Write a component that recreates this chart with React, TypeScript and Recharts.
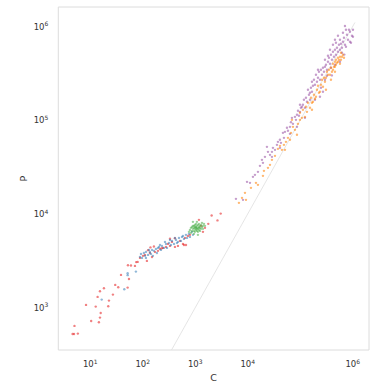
import React from 'react';
import {
  ScatterChart,
  Scatter,
  XAxis,
  YAxis,
  ReferenceLine,
  ReferenceArea,
} from 'recharts';

// [C, P] pairs
const redPoints: number[][] = [
  [4.6, 523], [4.9, 523], [5.8, 528], [5.0, 638], [8.3, 1069], [10.4, 721], [12.7, 1025],
  [14.6, 698], [15.3, 782], [15.8, 877], [13.8, 1301], [15.3, 1497], [18.2, 1610], [22.0, 1035],
  [22.7, 1188], [27, 1376], [29.9, 1747], [34.1, 1650], [38.5, 2232], [51.5, 1634], [54.6, 2022],
  [52.2, 2833], [59.6, 2810], [71, 2786], [75, 3060], [80, 3075], [88.5, 3389], [101, 3564],
  [120, 3150], [137, 3830], [150, 3470], [171, 3929], [195, 4030], [213, 4230], [243, 4335],
  [277, 4440], [302, 4781], [330, 4552], [360, 5020], [410, 4440], [468, 4552], [511, 5150],
  [583, 4781], [636, 5543], [726, 5821], [792, 5970], [665, 4660], [609, 4660], [140, 4390],
  [163, 4480], [330, 5420], [410, 5500], [1175, 8630], [1770, 7821], [2050, 9590], [2650, 8520],
  [3050, 10070], [1531, 7096], [1402, 6426], [1284, 7447], [110, 3650], [126, 4100], [230, 4300],
];

const bluePoints: number[][] = [
  [16.5, 1217], [44.5, 1571], [51.5, 2328], [51.5, 2220], [74, 2423], [88.5, 3480], [92.5, 3742],
  [96.6, 3389], [105, 3830], [110, 3564], [115, 3929], [126, 3650], [131, 4128], [143, 3742],
  [150, 4128], [163, 4030], [178, 4230], [186, 3830], [204, 4440], [222, 4128], [232, 4552],
  [253, 4335], [277, 4781], [289, 4335], [316, 4900], [344, 4660], [360, 5150], [393, 4781],
  [429, 5279], [448, 4900], [489, 5543], [534, 5150], [558, 5680], [609, 5410], [665, 5970],
  [695, 5543], [758, 6118], [792, 5680], [865, 6426], [903, 5970], [583, 5821], [468, 5020],
  [330, 5279], [195, 4335], [137, 3929], [115, 3389], [156, 3564], [213, 4660], [265, 5020],
  [410, 5543],
];

const greenPoints: number[][] = [
  [792, 6748], [828, 7096], [865, 7262], [903, 6918], [903, 7447], [944, 6585], [944, 7096],
  [986, 7640], [986, 6918], [986, 6426], [1030, 7262], [1030, 6748], [1030, 7821], [1076, 7096],
  [1076, 6585], [1076, 7447], [1124, 6918], [1124, 7640], [1124, 6426], [1175, 7262], [1175, 6748],
  [1175, 7821], [1229, 7096], [1229, 7447], [1284, 6918], [1284, 7640], [1342, 7262], [1342, 8020],
  [1402, 7447], [1465, 7821], [865, 6585], [828, 6270], [944, 6118], [758, 6426], [903, 8222],
  [1076, 8222], [1229, 6585], [1402, 6918], [1531, 7447], [1124, 5970], [986, 7262], [1030, 7096],
  [944, 7447], [1076, 6918], [1175, 7096],
];

const purplePoints: number[][] = [
  [5957, 14460], [8110, 14110], [9670, 21960], [11020, 21420], [12560, 24830], [13710, 26080],
  [15640, 28070], [18640, 37700], [19480, 35020], [21270, 40590], [23200, 51880], [24270, 45890],
  [26500, 42640], [28900, 40590], [28900, 45890], [30200, 50620], [33000, 48200], [36000, 54500],
  [41040, 61650], [42880, 57240], [46800, 73200], [48930, 64700], [51120, 75000], [55800, 82800],
  [58300, 76900], [63660, 84800], [66520, 95200], [69510, 105800], [72640, 91300], [79300, 108400],
  [82880, 100700], [86570, 114000], [90440, 125700], [94500, 111200], [98700, 145700],
  [103100, 135300], [107700, 138700], [112500, 145700], [117600, 164700], [122900, 135300],
  [128400, 173000], [134200, 156800], [140200, 210600], [146500, 186200], [153100, 195600],
  [159900, 221300], [167100, 256300], [167100, 200500], [174600, 232400], [182400, 269200],
  [190600, 238200], [199100, 304400], [208100, 256300], [217400, 282800], [227100, 327800],
  [237300, 177300], [237300, 269200], [247900, 344300], [259100, 304400], [270700, 200500],
  [270700, 361700], [282800, 327800], [295500, 370600], [295500, 440100], [308800, 389400],
  [322600, 344300], [337100, 419000], [337100, 485500], [352200, 462400], [368000, 562700],
  [368000, 399000], [384500, 497600], [401700, 440100], [419700, 636300], [419700, 535900],
  [438600, 474000], [458200, 562700], [478800, 668300], [478800, 497600], [500300, 591200],
  [522700, 535900], [546100, 636300], [570600, 719500], [570600, 562700], [596200, 652100],
  [623000, 591200], [650900, 854500], [650900, 684900], [680100, 755500], [710600, 1010000],
  [710600, 636300], [742500, 605900], [775800, 813500], [810600, 719500], [847000, 919500],
  [884900, 875700], [884900, 684900], [924600, 668300], [966100, 793600], [1009000, 774300],
  [1009000, 919500], [742500, 919500], [623000, 522900], [522700, 793600], [458200, 719500],
  [384500, 361700], [322600, 297000], [217400, 344300], [153100, 164700], [98700, 122600],
  [63660, 71400], [37600, 58670], [17070, 32530], [122900, 105800], [190600, 164700],
  [295500, 269200], [458200, 389400], [570600, 419000], [247900, 221300], [86570, 84800],
  [41040, 50620], [400000, 300000], [690000, 500000],
];

const orangePoints: number[][] = [
  [6790, 13110], [7760, 14820], [8850, 16760], [11510, 18950], [14330, 21420], [15640, 20390],
  [19480, 25440], [20350, 28760], [24270, 30980], [28900, 37700], [33000, 41600], [37600, 49400],
  [41040, 53180], [44800, 48200], [48930, 54500], [53410, 58670], [58300, 64700], [63660, 61650],
  [66520, 73200], [69510, 100700], [72640, 84800], [79300, 78800], [86570, 69700], [90440, 91300],
  [98700, 119700], [98700, 100700], [107700, 105800], [112500, 128800], [122900, 108400],
  [128400, 138700], [134200, 122600], [140200, 153000], [153100, 135300], [159900, 173000],
  [167100, 153000], [174600, 156800], [182400, 186200], [190600, 168800], [199100, 177300],
  [208100, 210600], [217400, 232400], [227100, 195600], [237300, 200500], [247900, 238200],
  [259100, 269200], [270700, 226800], [282800, 282800], [295500, 256300], [308800, 282800],
  [322600, 327800], [337100, 304400], [352200, 344300], [368000, 304400], [384500, 361700],
  [401700, 327800], [419700, 344300], [419700, 399000], [438600, 370600], [458200, 419000],
  [458200, 370600], [478800, 440100], [478800, 389400], [500300, 408900], [522700, 462400],
  [522700, 419000], [546100, 440100], [570600, 474000], [570600, 399000], [596200, 522900],
  [596200, 440100], [623000, 474000], [650900, 497600], [680100, 462400], [458200, 327800],
  [384500, 269200], [308800, 210600], [167100, 128800], [51120, 48200], [26500, 33340],
  [9250, 14110],
];

const xTicks = [10, 100, 1000, 10000, 100000, 1000000];
const yTicks = [1000, 10000, 100000, 1000000];
const xDomain = [2.46, 2040000];
const yDomain = [353, 1610000];
const diagonal = [354, 1100000];

const toRows = (pts: number[][]) => pts.map(([c, p]) => ({ c, p }));

const FONT = '"DejaVu Sans", sans-serif';

const dot = (color: string) => (props: any) => (
  <circle cx={props.cx} cy={props.cy} r={1.2} fill={color} fillOpacity={0.55} />
);

const PowerTick = ({ x, y, payload, anchor, dx, dy }: any) => {
  const exp = Math.round(Math.log10(payload.value));
  return (
    <text x={x + dx} y={y + dy} textAnchor={anchor} fontFamily={FONT} fontSize={8.5} fill="#333">
      10
      <tspan fontSize={6} dy={-3.5}>{exp}</tspan>
    </text>
  );
};

export default function App() {
  return (
    <div style={{ position: 'absolute', left: 0, top: 0, background: '#fff' }}>
      <ScatterChart width={389} height={389} margin={{ top: 7, right: 20, left: 0, bottom: 0 }}>
        <XAxis
          type="number"
          dataKey="c"
          scale="log"
          domain={xDomain}
          allowDataOverflow
          ticks={xTicks}
          height={39}
          tickSize={0}
          tickMargin={0}
          tickLine={false}
          axisLine={false}
          tick={<PowerTick anchor="middle" dx={0} dy={17} />}
          label={{
            content: ({ viewBox }: any) => (
              <text
                x={viewBox.x + viewBox.width / 2}
                y={381}
                textAnchor="middle"
                fontFamily={FONT}
                fontSize={9.5}
                fill="#333"
              >
                C
              </text>
            ),
          }}
        />
        <YAxis
          type="number"
          dataKey="p"
          scale="log"
          domain={yDomain}
          allowDataOverflow
          ticks={yTicks}
          width={58.3}
          tickSize={0}
          tickMargin={0}
          tickLine={false}
          axisLine={false}
          tick={<PowerTick anchor="end" dx={-10} dy={3.3} />}
          label={{
            content: ({ viewBox }: any) => {
              const cy = viewBox.y + viewBox.height / 2;
              return (
                <text
                  x={27}
                  y={cy}
                  transform={`rotate(-90, 27, ${cy})`}
                  textAnchor="middle"
                  fontFamily={FONT}
                  fontSize={9.5}
                  fill="#333"
                >
                  P
                </text>
              );
            },
          }}
        />
        <ReferenceArea
          x1={xDomain[0]}
          x2={xDomain[1]}
          y1={yDomain[0]}
          y2={yDomain[1]}
          ifOverflow="visible"
          fill="none"
          stroke="#dcdcdc"
          strokeWidth={1}
        />
        <ReferenceLine
          segment={[
            { x: diagonal[0], y: diagonal[0] },
            { x: diagonal[1], y: diagonal[1] },
          ]}
          ifOverflow="visible"
          stroke="#dedede"
          strokeWidth={0.8}
        />
        <Scatter data={toRows(redPoints)} shape={dot('#e41a1c')} isAnimationActive={false} />
        <Scatter data={toRows(bluePoints)} shape={dot('#377eb8')} isAnimationActive={false} />
        <Scatter data={toRows(greenPoints)} shape={dot('#4daf4a')} isAnimationActive={false} />
        <Scatter data={toRows(purplePoints)} shape={dot('#984ea3')} isAnimationActive={false} />
        <Scatter data={toRows(orangePoints)} shape={dot('#ff7f00')} isAnimationActive={false} />
      </ScatterChart>
    </div>
  );
}
